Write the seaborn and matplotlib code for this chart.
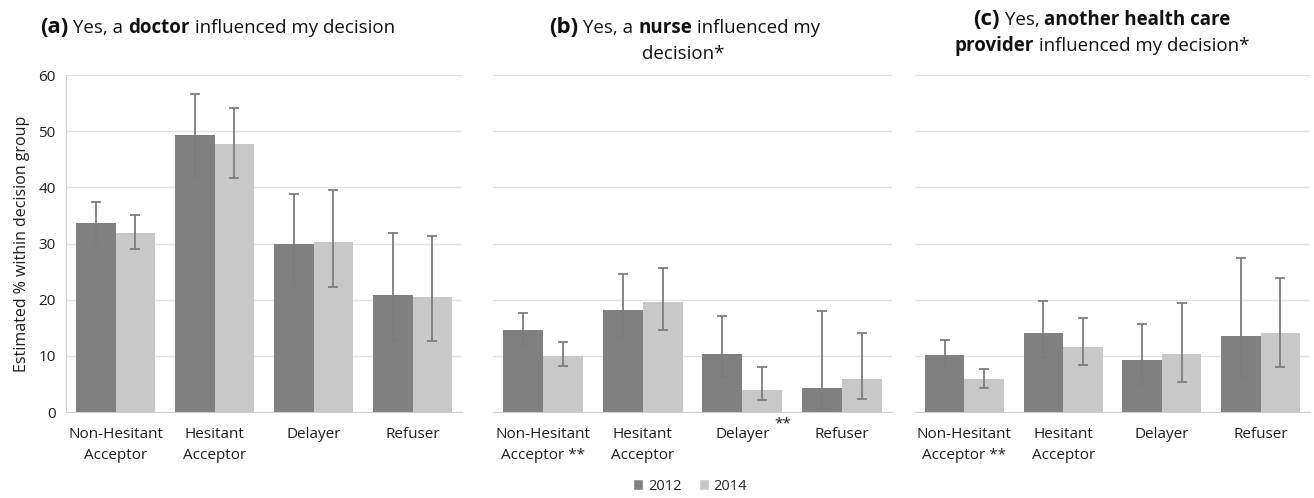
import numpy as np
import pandas as pd
import matplotlib
matplotlib.use('Agg')
import matplotlib.pyplot as plt
import seaborn as sns
from matplotlib.patches import Patch
import matplotlib.transforms as mtransforms

sns.set_style('white')
plt.rcParams['font.family'] = ['Open Sans', 'DejaVu Sans']

groups = ['Non-Hesitant\nAcceptor', 'Hesitant\nAcceptor', 'Delayer', 'Refuser']
years = ['2012', '2014']

# tick labels per panel (** marks a significant 2012 vs 2014 change)
labels_a = groups
labels_b = ['Non-Hesitant\nAcceptor **', 'Hesitant\nAcceptor', 'Delayer', 'Refuser']
labels_c = ['Non-Hesitant\nAcceptor **', 'Hesitant\nAcceptor', 'Delayer', 'Refuser']

# (a) doctor
doc_2012 = [33.7, 49.3, 30.0, 20.8]
doc_2014 = [31.8, 47.8, 30.2, 20.4]
doc_lo_2012 = [30.1, 42.0, 22.5, 12.8]
doc_hi_2012 = [37.3, 56.6, 38.9, 31.9]
doc_lo_2014 = [29.0, 41.7, 22.2, 12.7]
doc_hi_2014 = [35.0, 54.1, 39.5, 31.3]

# (b) nurse
nur_2012 = [14.6, 18.1, 10.4, 4.3]
nur_2014 = [10.0, 19.5, 4.0, 5.8]
nur_lo_2012 = [11.8, 13.1, 6.2, 0.5]
nur_hi_2012 = [17.7, 24.5, 17.1, 18.0]
nur_lo_2014 = [8.2, 14.6, 2.1, 2.4]
nur_hi_2014 = [12.4, 25.6, 8.0, 14.1]

# (c) other health care provider
oth_2012 = [10.2, 14.1, 9.2, 13.5]
oth_2014 = [5.8, 11.6, 10.4, 14.1]
oth_lo_2012 = [7.8, 9.6, 5.0, 6.0]
oth_hi_2012 = [12.9, 19.8, 15.6, 27.4]
oth_lo_2014 = [4.3, 8.3, 5.4, 8.0]
oth_hi_2014 = [7.6, 16.8, 19.4, 23.9]

panels = [
    (doc_2012, doc_2014, doc_lo_2012, doc_hi_2012, doc_lo_2014, doc_hi_2014),
    (nur_2012, nur_2014, nur_lo_2012, nur_hi_2012, nur_lo_2014, nur_hi_2014),
    (oth_2012, oth_2014, oth_lo_2012, oth_hi_2012, oth_lo_2014, oth_hi_2014),
]
panel_labels = [labels_a, labels_b, labels_c]

dark = '#808080'
light = '#c8c8c8'
err_col = '#7d7d7d'
grid_col = '#e2e2e2'
txt_col = '#1e1e1e'

fig = plt.figure(figsize=(13.14, 4.98), dpi=100)
bottom, top = 1 - 412 / 498, 1 - 75 / 498
lefts = [66, 493, 915]
rights = [462, 892, 1310]
axes = []
for i in range(3):
    ax = fig.add_axes([lefts[i] / 1314, bottom, (rights[i] - lefts[i]) / 1314, top - bottom])
    axes.append(ax)

for i, ax in enumerate(axes):
    v12, v14, lo12, hi12, lo14, hi14 = panels[i]
    df = pd.DataFrame({
        'group': groups * 2,
        'year': ['2012'] * 4 + ['2014'] * 4,
        'value': v12 + v14,
    })
    sns.barplot(data=df, x='group', y='value', hue='year', order=groups,
                hue_order=years, palette=[dark, light], width=0.8,
                saturation=1, legend=False, linewidth=0, ax=ax)
    for cont, vals, lo, hi in zip(ax.containers, [v12, v14], [lo12, lo14], [hi12, hi14]):
        xs = [b.get_x() + b.get_width() / 2 for b in cont]
        vals = np.array(vals)
        yerr = [vals - np.array(lo), np.array(hi) - vals]
        ax.errorbar(xs, vals, yerr=yerr, fmt='none', ecolor=err_col,
                    elinewidth=1.3, capsize=3.5, capthick=1.3, zorder=3)

    ax.set_ylim(0, 60)
    ax.set_yticks(range(0, 61, 10))
    ax.set_xlim(-0.5, 3.5)
    ax.yaxis.grid(True, color=grid_col, lw=1)
    ax.set_axisbelow(True)
    ax.set_xlabel('')
    ax.set_xticks(range(4))
    ax.set_xticklabels(panel_labels[i], fontsize=11, color=txt_col, linespacing=1.5)
    ax.tick_params(axis='x', length=0, pad=11)
    for s in ['top', 'right']:
        ax.spines[s].set_visible(False)
    ax.spines['bottom'].set_color('#d0d0d0')
    if i == 0:
        ax.set_ylabel('Estimated % within decision group', fontsize=11.5, color=txt_col, labelpad=6)
        ax.spines['left'].set_color('#d0d0d0')
        ax.tick_params(axis='y', length=4, color='#d0d0d0', labelsize=11, labelcolor=txt_col)
    else:
        ax.set_ylabel('')
        ax.spines['left'].set_visible(False)
        ax.set_yticklabels([])
        ax.tick_params(axis='y', length=0)

# raised ** after "Delayer" in panel (b)
tr = mtransforms.offset_copy(axes[1].get_xaxis_transform(), fig=fig, x=40, y=-12, units='dots')
axes[1].text(2, 0, '**', transform=tr, fontsize=11, color=txt_col,
             ha='center', va='center', clip_on=False)

renderer = fig.canvas.get_renderer()


def chained_title(x_px, base_px, parts, center=False):
    # draw pieces of one title line next to each other on a common baseline
    texts = []
    for txt, size, weight in parts:
        t = fig.text(0, 1 - base_px / 498, txt, fontsize=size, fontweight=weight,
                     ha='left', va='baseline', color='#111111')
        texts.append(t)
    widths = [t.get_window_extent(renderer).width for t in texts]
    x = x_px - sum(widths) / 2 if center else x_px
    for t, w in zip(texts, widths):
        t.set_x(x / 1314)
        x += w


chained_title(40, 33, [('(a)', 16, 'bold'), (' Yes, a ', 13.5, 'normal'),
                       ('doctor', 13.5, 'bold'), (' influenced my decision', 13.5, 'normal')])
chained_title(549, 33, [('(b)', 16, 'bold'), (' Yes, a ', 13.5, 'normal'),
                        ('nurse', 13.5, 'bold'), (' influenced my', 13.5, 'normal')])
chained_title(683, 59, [('decision*', 13.5, 'normal')], center=True)
chained_title(973, 25, [('(c)', 16, 'bold'), (' Yes, ', 13.5, 'normal'),
                        ('another health care', 13.5, 'bold')])
chained_title(1102, 51, [('provider', 13.5, 'bold'), (' influenced my decision*', 13.5, 'normal')],
              center=True)

handles = [Patch(facecolor=dark, label='2012'), Patch(facecolor=light, label='2014')]
fig.legend(handles=handles, loc='center', bbox_to_anchor=(690 / 1314, 1 - 486 / 498),
           ncol=2, frameon=False, fontsize=10.5, handlelength=0.7, handleheight=0.7,
           handletextpad=0.3, columnspacing=1.2)

fig.savefig('out.png', dpi=100)
